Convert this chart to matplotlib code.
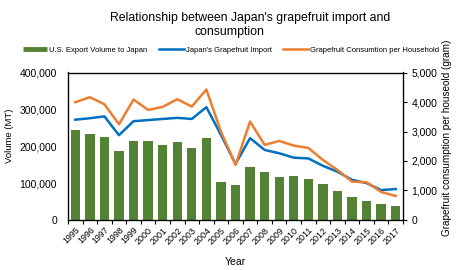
import matplotlib
matplotlib.use("Agg")
import matplotlib.pyplot as plt
from matplotlib.ticker import FuncFormatter, FixedLocator
from matplotlib.lines import Line2D

plt.rcParams['font.family'] = ['Liberation Sans', 'DejaVu Sans']

years = [str(y) for y in range(1995, 2018)]
us_export = [244000, 234000, 226000, 187000, 214000, 214000, 204000, 211000, 195000, 222000,
             102000, 94000, 145000, 129000, 116000, 118000, 110000, 97000, 79000, 62000,
             52000, 44000, 37000]
japan_import = [272000, 276000, 281000, 230000, 268000, 271000, 274000, 277000, 274000, 306000,
                231000, 152000, 222000, 190000, 181000, 169000, 167000, 147000, 131000, 109000,
                100000, 81000, 84000]
consumption = [3993, 4162, 3925, 3246, 4083, 3732, 3834, 4094, 3845, 4422,
               2997, 1867, 3337, 2545, 2680, 2522, 2443, 2036, 1697, 1300,
               1278, 950, 814]

GREEN = '#548235'
BLUE = '#0070C0'
ORANGE = '#ED7D31'

fig = plt.figure(figsize=(4.6, 2.7), dpi=100)
ax = fig.add_axes([68/460, 1-220/270, (403-68)/460, (220-72.5)/270])
x = list(range(len(years)))
ax.bar(x, us_export, width=0.64, color=GREEN, zorder=2)
ax.plot(x, japan_import, color=BLUE, lw=1.8, zorder=3)
ax.set_xlim(-0.5, len(years)-0.5)
ax.set_ylim(0, 400000)
ax.set_yticks([0, 100000, 200000, 300000, 400000])
ax.yaxis.set_major_formatter(FuncFormatter(lambda v, p: f"{int(v):,}"))
ax.tick_params(axis='y', length=0, labelsize=7.5, pad=8)
ax.set_xticks(x)
ax.set_xticklabels(years, rotation=45, ha='right', rotation_mode='anchor', fontsize=6.4)
ax.tick_params(axis='x', length=0, pad=4)
ax.xaxis.set_minor_locator(FixedLocator([i + 0.5 for i in range(-1, len(years))]))
ax.tick_params(axis='x', which='minor', length=3, width=0.8, direction='out')
for s in ax.spines.values():
    s.set_linewidth(0.9)
ax.set_xlabel('Year', fontsize=7.5, labelpad=8)
ax.set_ylabel('Volume (MT)', fontsize=6.8)
ax.yaxis.set_label_coords(-0.16, 0.57)

ax2 = ax.twinx()
ax2.plot(x, consumption, color=ORANGE, lw=1.8, zorder=3)
ax2.set_ylim(0, 5000)
ax2.set_yticks([0, 1000, 2000, 3000, 4000, 5000])
ax2.yaxis.set_major_formatter(FuncFormatter(lambda v, p: f"{int(v):,}"))
ax2.tick_params(axis='y', length=3, width=0.8, labelsize=7.5, pad=3)
ax2.set_ylabel('Grapefruit consumption per houseold (gram)', fontsize=7.2)
ax2.yaxis.set_label_coords(1.115, 0.56)

fig.text(250/460, 1-18/270, "Relationship between Japan's grapefruit import and",
         ha='center', va='center', fontsize=8.8)
fig.text(229/460, 1-32.5/270, "consumption", ha='center', va='center', fontsize=8.8)

handles = [Line2D([0], [0], color=GREEN, lw=3.5, solid_capstyle='butt'),
           Line2D([0], [0], color=BLUE, lw=1.8),
           Line2D([0], [0], color=ORANGE, lw=1.8)]
labels = ['U.S. Export Volume to Japan', "Japan's Grapefruit Import",
          'Grapefruit Consumtion per Household']
fig.legend(handles, labels, loc='center', bbox_to_anchor=(231/460, 1-50/270), ncol=3,
           frameon=False, fontsize=5.5, handlelength=3.2, handletextpad=0.3,
           columnspacing=1.5, borderaxespad=0)

fig.savefig('out.png', dpi=100)
